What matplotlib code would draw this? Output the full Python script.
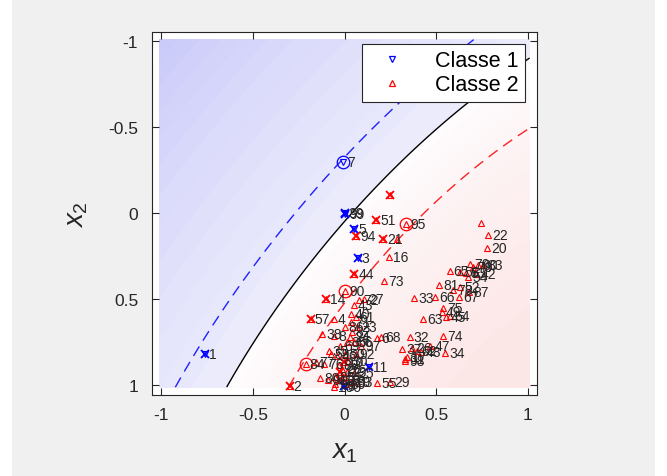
import numpy as np
import matplotlib
matplotlib.use('Agg')
import matplotlib.pyplot as plt
from matplotlib.colors import LinearSegmentedColormap, TwoSlopeNorm
from matplotlib.lines import Line2D
from matplotlib.patches import Rectangle

plt.rcParams['font.family'] = ['Liberation Sans', 'DejaVu Sans']
plt.rcParams['mathtext.fontset'] = 'custom'
plt.rcParams['mathtext.it'] = 'Liberation Sans:italic'
plt.rcParams['mathtext.rm'] = 'Liberation Sans'

# ---- curves (decision boundary and margins) ----
boundary_x = [-0.587, -0.339, -0.294, 0.072, 0.232, 0.649, 0.975]
boundary_y = [1.0, 0.508, 0.44, 0.0, -0.195, -0.617, -0.868]
margin1_x = [-0.946, -0.647, -0.511, -0.294, -0.113, -0.009, 0.287, 0.613]
margin1_y = [1.008, 0.508, 0.325, 0.055, -0.195, -0.296, -0.617, -0.974]
margin2_x = [-0.303, -0.209, -0.13, 0.0, 0.159, 0.335, 0.5, 0.993]
margin2_y = [1.008, 0.872, 0.70, 0.46, 0.258, 0.062, -0.10, -0.445]

# ---- points: label, x, y, support-vector flag, circled flag ----
c1_labels = ['1', '3', '5', '7', '9', '11', '39', '99']
c1_x = [-0.762, 0.071, 0.053, -0.009, -0.004, 0.132, 0.0, 0.004]
c1_y = [0.818, 0.262, 0.089, -0.296, 1.005, 0.893, 0.0, 0.002]
c1_sv = [1, 1, 1, 0, 1, 1, 1, 1]
c1_circ = [0, 0, 0, 1, 0, 0, 0, 0]

c2_labels = ['2', '4', '6', '8', '10', '12', '13', '14', '15', '16', '17', '18', '19', '20',
             '21', '22', '23', '24', '25', '26', '27', '28', '29', '30', '31', '32', '33', '34',
             '35', '36', '37', '38', '40', '', '42', '43', '44', '45', '46', '47', '48', '49',
             '50', '51', '52', '53', '54', '55', '56', '57', '58', '59', '60', '61', '62', '63',
             '64', '65', '66', '67', '68', '69', '70', '71', '72', '73', '74', '75', '76', '77',
             '78', '79', '80', '81', '82', '83', '84', '85', '86', '87', '88', '89', '90', '91',
             '92', '93', '94', '95', '96', '97', '98', '100', '', '']
c2_x = [-0.299, -0.058, 0.178, -0.058, -0.004, -0.022, 0.015, -0.103, 0.005, 0.245, 0.34, -0.022,
        0.033, 0.776, 0.212, 0.785, 0.069, 0.029, 0.051, 0.37, 0.105, -0.013, 0.25, 0.02, 0.332,
        0.355, 0.381, 0.549, -0.087, 0.015, 0.315, -0.121, 0.033, 0.285, 0.72, 0.051, 0.053, 0.555,
        -0.04, 0.468, 0.42, 0.53, 0.005, 0.172, 0.631, 0.665, 0.675, 0.178, 0.051, -0.185, 0.63,
        -0.076, 0.73, 0.06, 0.395, 0.428, 0.575, 0.573, 0.495, 0.627, 0.2, -0.022, 0.685, 0.035,
        0.078, 0.218, 0.54, 0.54, -0.113, -0.158, 0.594, 0.70, -0.134, 0.518, 0.04, 0.755, -0.212,
        -0.05, 0.0, 0.68, -0.03, 0.01, 0.005, -0.09, 0.06, 0.05, 0.062, 0.335, -0.05, 0.09, 0.33,
        -0.058, 0.25, 0.743]
c2_y = [1.001, 0.614, 0.725, 0.71, 0.864, 0.921, 0.921, 0.498, 0.95, 0.252, 0.835, 0.97, 0.98,
        0.2, 0.15, 0.123, 0.658, 0.72, 0.93, 0.78, 0.498, 0.902, 0.98, 0.86, 0.845, 0.72, 0.489,
        0.81, 0.80, 0.748, 0.79, 0.70, 0.585, 0.146, 0.355, 0.531, 0.352, 0.60, 0.826, 0.768,
        0.805, 0.575, 0.816, 0.039, 0.43, 0.345, 0.372, 0.985, 0.748, 0.614, 0.338, 0.816, 0.30,
        0.60, 0.80, 0.614, 0.598, 0.336, 0.485, 0.485, 0.72, 0.768, 0.292, 0.63, 0.504, 0.391,
        0.71, 0.552, 0.874, 0.864, 0.446, 0.31, 0.956, 0.416, 0.69, 0.297, 0.873, 0.95, 0.66,
        0.455, 0.88, 0.99, 0.45, 0.97, 0.82, 0.98, 0.131, 0.062, 0.99, 0.77, 0.855, 1.008,
        -0.108, 0.055]
c2_sv_labels = ['2', '10', '12', '14', '18', '21', '44', '51', '57', '94']
c2_circ_labels = ['84', '90', '95']
c2_extra_sv_index = [len(c2_labels) - 2]

x_ticks = [-1, -0.5, 0, 0.5, 1]
y_ticks = [-1, -0.5, 0, 0.5, 1]
tick_labels = ['-1', '-0.5', '0', '0.5', '1']

# ---- decision field fitted to the read curves ----
cx = np.concatenate([margin1_x, boundary_x, margin2_x])
cy = np.concatenate([margin1_y, boundary_y, margin2_y])
cv = np.concatenate([-np.ones(len(margin1_x)), np.zeros(len(boundary_x)), np.ones(len(margin2_x))])
A = np.column_stack([np.ones_like(cx), cx, cy, cx**2, cx*cy, cy**2])
coef, *_ = np.linalg.lstsq(A, cv, rcond=None)

def field(x, y):
    return coef[0] + coef[1]*x + coef[2]*y + coef[3]*x**2 + coef[4]*x*y + coef[5]*y**2

gx, gy = np.meshgrid(np.linspace(-1.01, 1.01, 300), np.linspace(-1.01, 1.01, 300))
F = field(gx, gy)

fig = plt.figure(figsize=(6.67, 4.77), dpi=100)
fig.patch.set_facecolor('white')
fig.patches.append(Rectangle((0.018, 0.0), 0.964, 1.0, transform=fig.transFigure,
                             facecolor='#f0f0f0', edgecolor='none', zorder=-10))
ax = fig.add_axes([0.228, 0.170, 0.577, 0.761])
ax.set_facecolor('white')

cmap = LinearSegmentedColormap.from_list('bw', [(0.0, (0.79, 0.79, 0.98)),
                                                (0.499, (0.925, 0.925, 0.988)),
                                                (0.501, (0.995, 0.99, 0.995)),
                                                (1.0, (0.99, 0.905, 0.905))])
fmin, fmax = F.min(), F.max()
norm = TwoSlopeNorm(vmin=min(fmin, -1.5), vcenter=0.0, vmax=max(fmax, 1.5))
levels = np.concatenate([np.linspace(fmin, 0, 14), np.linspace(0, fmax, 14)[1:]])
ax.contourf(gx, gy, F, levels=levels, cmap=cmap, norm=norm, zorder=0)
ax.contour(gx, gy, F, levels=[0], colors='black', linewidths=1.0, zorder=1)
cs1 = ax.contour(gx, gy, F, levels=[-1], colors='#2020ff', linewidths=1.0, zorder=1)
cs2 = ax.contour(gx, gy, F, levels=[1], colors='#ff2020', linewidths=1.0, zorder=1)
for cs in (cs1, cs2):
    cs.set_linestyle((0, (8, 5)))

ax.plot(c2_x, c2_y, ls='none', marker='^', ms=4.5, mfc='none', mec='red', mew=0.8, zorder=3)
ax.plot(c1_x, c1_y, ls='none', marker='v', ms=4.5, mfc='none', mec='blue', mew=0.8, zorder=3)

sv2 = [i for i, l in enumerate(c2_labels) if l in c2_sv_labels] + c2_extra_sv_index
ax.plot([c2_x[i] for i in sv2], [c2_y[i] for i in sv2], ls='none', marker='x', ms=6,
        mec='red', mew=1.3, zorder=4)
sv1 = [i for i, s in enumerate(c1_sv) if s]
ax.plot([c1_x[i] for i in sv1], [c1_y[i] for i in sv1], ls='none', marker='x', ms=6,
        mec='blue', mew=1.3, zorder=4)
ci2 = [i for i, l in enumerate(c2_labels) if l in c2_circ_labels]
ax.plot([c2_x[i] for i in ci2], [c2_y[i] for i in ci2], ls='none', marker='o', ms=9,
        mfc='none', mec='red', mew=0.9, zorder=4)
ci1 = [i for i, s in enumerate(c1_circ) if s]
ax.plot([c1_x[i] for i in ci1], [c1_y[i] for i in ci1], ls='none', marker='o', ms=9,
        mfc='none', mec='blue', mew=0.9, zorder=4)

for xs, ys, ls in ((c1_x, c1_y, c1_labels), (c2_x, c2_y, c2_labels)):
    for xv, yv, lv in zip(xs, ys, ls):
        if lv:
            ax.text(xv + 0.022, yv, lv, fontsize=10, color='#262626', va='center', ha='left',
                    zorder=5)

ax.set_xlim(-1.05, 1.05)
ax.set_ylim(1.055, -1.055)
ax.set_xticks(x_ticks)
ax.set_xticklabels(tick_labels)
ax.set_yticks(y_ticks)
ax.set_yticklabels(tick_labels)
ax.tick_params(direction='in', top=True, right=True, length=5, width=0.8,
               labelsize=12.5, colors='#262626')
ax.tick_params(axis='x', pad=9)
ax.tick_params(axis='y', pad=10)
for s in ax.spines.values():
    s.set_color('#262626')
    s.set_linewidth(0.8)
ax.set_xlabel('$x_1$', fontsize=20, color='#262626', labelpad=11)
ax.set_ylabel('$x_2$', fontsize=20, color='#262626', labelpad=13)

handles = [Line2D([], [], ls='none', marker='v', ms=4.5, mfc='none', mec='blue', mew=0.9),
           Line2D([], [], ls='none', marker='^', ms=4.5, mfc='none', mec='red', mew=0.9)]
leg = ax.legend(handles, ['Classe 1', 'Classe 2'], loc='upper right', fontsize=15.5,
                fancybox=False, framealpha=1, edgecolor='#262626', borderaxespad=0.55,
                handlelength=2.2, handletextpad=0.9, labelspacing=0.15, borderpad=0.3)
leg.get_frame().set_linewidth(0.8)
leg.set_zorder(10)

fig.savefig('out.png', dpi=100, facecolor=fig.get_facecolor())
